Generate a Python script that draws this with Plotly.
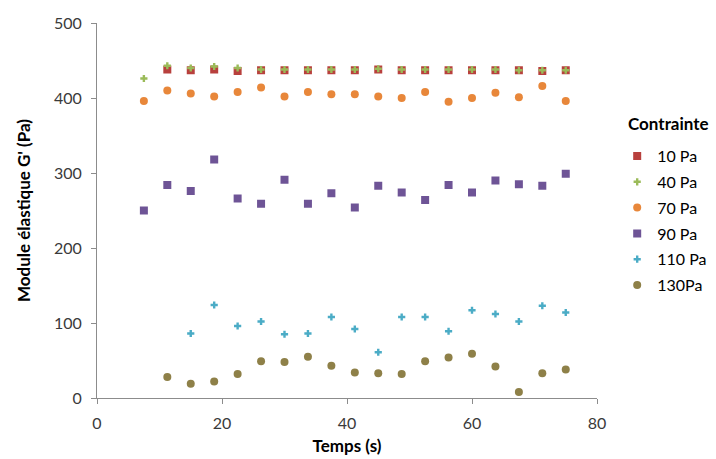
import plotly.graph_objects as go

# Time points (s)
temps = [7.5, 11.25, 15, 18.75, 22.5, 26.25, 30, 33.75, 37.5, 41.25, 45,
         48.75, 52.5, 56.25, 60, 63.75, 67.5, 71.25, 75]

# Elastic modulus G' (Pa) for each stress level
g_10 = [None, 438, 437, 438, 436, 437, 437, 437, 437, 437, 438, 437, 437, 437, 437, 437, 437, 436, 437]
g_40 = [426, 443, 440, 442, 440, 438, 438, 438, 438, 438, 439, 438, 438, 438, 438, 438, 437, 437, 437]
g_70 = [396, 410, 406, 402, 408, 414, 402, 408, 405, 405, 402, 400, 408, 395, 400, 407, 401, 416, 396]
g_90 = [250, 284, 276, 318, 266, 259, 291, 259, 273, 254, 283, 274, 264, 284, 274, 290, 285, 283, 299]
g_110 = [None, None, 86, 124, 96, 102, 85, 86, 108, 92, 61, 108, 108, 89, 117, 112, 102, 123, 114]
g_130 = [None, 28, 19, 22, 32, 49, 48, 55, 43, 34, 33, 32, 49, 54, 59, 42, 8, 33, 38]

series_names = ["10 Pa", "40 Pa", "70 Pa", "90 Pa", "110 Pa", "130Pa"]
series_vals = [g_10, g_40, g_70, g_90, g_110, g_130]
legend_title = "Contrainte"
colors = ["#B8403D", "#9BBB59", "#E8873A", "#6E5496", "#4BACC6", "#8E8048"]
symbols = ["square", "cross", "circle", "square", "cross", "circle"]
sizes = [8, 6, 8, 8, 6, 8]

fig = go.Figure()
for i, (name, vals) in enumerate(zip(series_names, series_vals)):
    fig.add_trace(go.Scatter(
        x=temps, y=vals, mode="markers", name=name,
        legendgroup=name,
        marker=dict(symbol=symbols[i], size=sizes[i], color=colors[i],
                    line=dict(width=0)),
    ))

axis_common = dict(
    showgrid=False, zeroline=False, showline=True, linecolor="#8C8C8C",
    linewidth=1, ticks="outside", ticklen=5, tickcolor="#8C8C8C",
    tickfont=dict(family="Lato", size=16, color="#3A3A3A"),
    automargin=False,
)

fig.update_layout(
    width=716, height=459,
    margin=dict(l=97, r=119, t=23, b=61),
    paper_bgcolor="white", plot_bgcolor="white",
    font=dict(family="Lato", color="#000000"),
    xaxis=dict(range=[0, 80], dtick=20, tick0=0,
               title=dict(text="<b>Temps (s)</b>", font=dict(size=17, family="Lato"),
                          standoff=8),
               ticklabelstandoff=6,
               **axis_common),
    yaxis=dict(range=[0, 500], dtick=100, tick0=0,
               title=dict(text="<b>Module élastique G' (Pa)</b>", font=dict(size=17, family="Lato"),
                          standoff=19),
               ticklabelstandoff=6,
               **axis_common),
    legend=dict(
        xref="container", yref="container",
        x=0.862, xanchor="left", y=0.697, yanchor="top",
        font=dict(family="Lato", size=16, color="#000000"),
        tracegroupgap=2, itemwidth=30,
    ),
    showlegend=True,
    annotations=[dict(
        text="<b>" + legend_title + "</b>", xref="paper", yref="paper",
        x=1.058, y=0.731, xanchor="left", yanchor="middle", showarrow=False,
        font=dict(family="Lato", size=17, color="#000000"),
    )],
)

fig.write_html("out.html", post_script="document.body.style.margin='0';",
               config={"displayModeBar": False})
